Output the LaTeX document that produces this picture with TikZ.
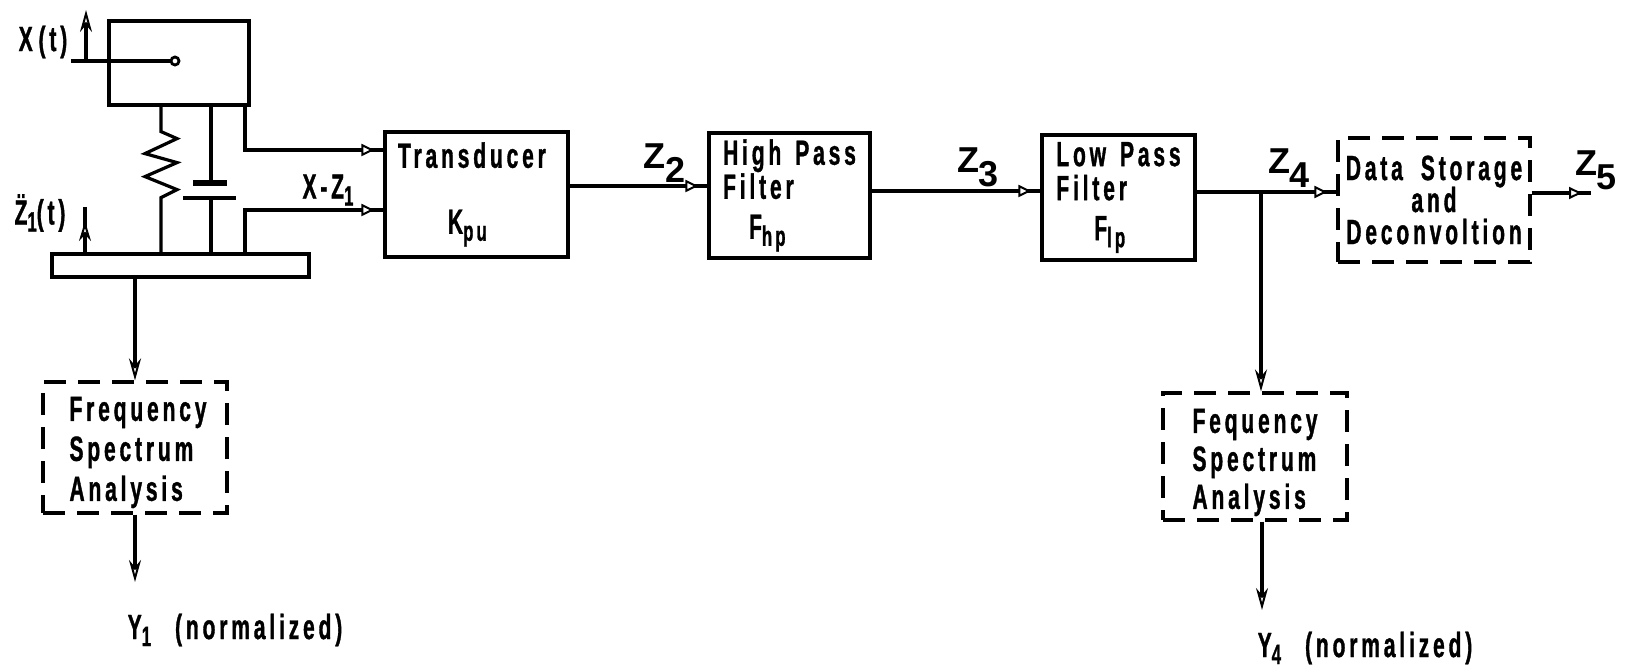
\documentclass[tikz,border=0pt]{standalone}
\usepackage{fontspec}
\setmainfont[FakeStretch=0.6,LetterSpace=11,BoldFont={Liberation Sans Bold},BoldFeatures={FakeBold=1}]{Liberation Sans}
\newfontfamily\zfont[BoldFont={Liberation Sans Bold}]{Liberation Sans}
\usetikzlibrary{arrows.meta,decorations.markings}
\newcommand{\lowsub}[1]{\raisebox{-3.5pt}{\fontsize{14}{14}\selectfont #1}}
\newcommand{\zlabel}[1]{{\zfont Z\raisebox{-7pt}{#1}}}
\begin{document}
\begin{tikzpicture}[
    x=0.5pt, y=-0.5pt,
    sig/.style={line width=1.6pt},
    txt/.style={font=\fontsize{17.5}{17}\selectfont\bfseries, inner sep=0pt, align=left},
    zlab/.style={font=\fontsize{18}{18}\selectfont\bfseries, inner sep=0pt},
    block/.style={rectangle, draw, line width=1.6pt, txt},
    dashblock/.style={block, dash pattern=on 11pt off 6pt},
    htip/.style={postaction={decorate, decoration={markings, mark=at position -4.5pt with {\arrow[line width=1pt]{Triangle[fill=white, length=6.5pt, width=6pt]}}}}},
    vtip/.style={-{Stealth[fill=white, length=11pt, width=6pt, line width=1pt]}},
    vmid/.style={postaction={decorate, decoration={markings, mark=at position -7pt with {\arrow[line width=1pt]{Stealth[fill=white, length=10pt, width=6pt]}}}}},
]
\useasboundingbox (0,0) rectangle (1629,668);

\node[block, minimum width=70pt, minimum height=42pt] (massbox) at (179,63) {};
\node[block, minimum width=128.5pt, minimum height=11.5pt] (plate) at (180.5,265.5) {};
\node[block, minimum width=91.5pt, minimum height=62.5pt, text width=78.5pt] (transducer) at (476.5,194.5) {Transducer\\[16pt]\hspace*{25pt}K\lowsub{pu}};
\node[block, minimum width=80.5pt, minimum height=62.5pt] (hpf) at (789.5,195.5) {High\hspace{7pt}Pass\\[0pt]Filter\\[3pt]\hspace*{13pt}F\lowsub{hp}};
\node[block, minimum width=76.5pt, minimum height=62.5pt] (lpf) at (1118.5,197.5) {Low\hspace{7pt}Pass\\[0pt]Filter\\[3pt]\hspace*{19pt}F\lowsub{lp}};
\node[dashblock, minimum width=96pt, minimum height=62pt, align=center] (dsd) at (1434,200) {Data\hspace{9pt}Storage\\[-1pt]and\\[-1pt]Deconvoltion};
\node[dashblock, minimum width=92pt, minimum height=65.5pt] (fsa1) at (135,447.5) {\rule{0pt}{17pt}\hspace*{3pt}Frequency\\[3pt]\hspace*{3pt}Spectrum\\[3pt]\hspace*{3pt}Analysis};
\node[dashblock, minimum width=92pt, minimum height=63.5pt] (fsa4) at (1255,456.5) {\rule{0pt}{18pt}Fequency\\[2pt]Spectrum\\[2pt]Analysis};

\node[txt] (xlabel) at (43,42) {X\,(t)};
\node[txt] (zonelabel) at (40,213) {\"Z\lowsub{1}(t)};
\node[txt] (difflabel) at (328,190) {X-Z\lowsub{1}};
\node[zlab] (ztwolabel) at (665,163) {\zlabel{2}};
\node[zlab] (zthreelabel) at (978,167) {\zlabel{3}};
\node[zlab] (zfourlabel) at (1289,168) {\zlabel{4}};
\node[zlab] (zfivelabel) at (1596,170) {\zlabel{5}};
\node[txt] (yonelabel) at (235,630) {Y\lowsub{1}\hspace{12pt}(normalized)};
\node[txt] (yfourlabel) at (1365,648) {Y\lowsub{4}\hspace{12pt}(normalized)};

\node[circle, draw, line width=1.4pt, minimum size=4pt, inner sep=0pt] (rodend) at (175,61) {};
\coordinate (rodstart) at (71,61);
\coordinate (xtip) at (86,10);
\coordinate (zonetip) at (85,207);
\coordinate (yonetip) at (135,582);
\coordinate (yfourtip) at (1262,610);
\coordinate (zfivetip) at (1591,193);
\coordinate (branch) at (1261,192);

\draw[sig] (rodstart) -- (rodend);
\draw[sig, vtip] (86,0 |- rodstart) -- (xtip);
\draw[sig, vmid] (85,0 |- plate.north) -- (zonetip);

\draw[sig] (161,0 |- massbox.south) -- ++(0,25) -- ++(16,7) -- ++(-32,15) -- ++(32,9) -- ++(-32,14) -- ++(32,13) -- ++(-16,8) -- (161,0 |- plate.north);
\draw[sig] (211,0 |- massbox.south) -- (211,183);
\draw[line width=3pt] (193,183) -- (227,183);
\draw[sig] (183,198) -- (236,198);
\draw[sig] (211,198) -- (211,0 |- plate.north);

\draw[sig, htip] (245,0 |- massbox.south) |- (transducer.west |- 0,150);
\draw[sig, htip] (245,0 |- plate.north) |- (transducer.west |- 0,210);
\draw[sig, htip] (transducer.east |- 0,186) -- (hpf.west |- 0,186);
\draw[sig, htip] (hpf.east |- 0,191) -- (lpf.west |- 0,191);
\draw[sig, htip] (lpf.east |- branch) -- (dsd.west |- branch);
\draw[sig, htip] (dsd.east |- zfivetip) -- (zfivetip);
\draw[sig, vtip] (branch) -- (branch |- fsa4.north);
\draw[sig, vtip] (135,0 |- plate.south) -- (135,0 |- fsa1.north);
\draw[sig, vtip] (135,0 |- fsa1.south) -- (yonetip);
\draw[sig, vtip] (yfourtip |- fsa4.south) -- (yfourtip);

\end{tikzpicture}
\end{document}
